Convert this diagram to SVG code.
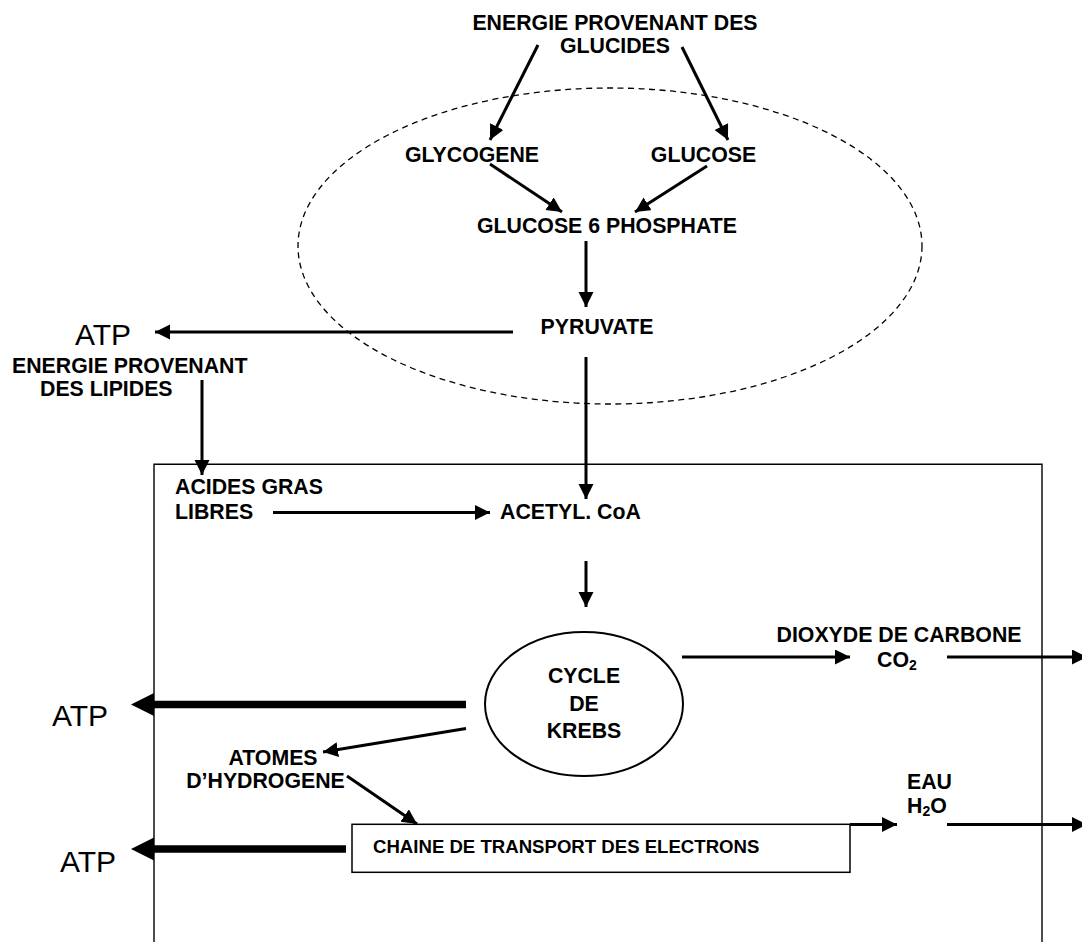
<svg xmlns="http://www.w3.org/2000/svg" width="1082" height="942" viewBox="0 0 1082 942">
<style>
text{font-family:"Liberation Sans",Arial,sans-serif;fill:#000}
.b{font-weight:bold;font-size:21.3px}
.s{font-weight:bold;font-size:18.6px}
.atp{font-size:30px}
.c{text-anchor:middle}
.ln{stroke:#000;stroke-width:3;fill:none}
.thick{stroke:#000;stroke-width:7.5;fill:none}
.frame{stroke:#000;stroke-width:1.4;fill:none}
</style>
<defs>
<marker id="ah" markerUnits="userSpaceOnUse" markerWidth="16" markerHeight="16" refX="15" refY="7.5" orient="auto">
<path d="M0,0 L15,7.5 L0,15 z" fill="#000"/>
</marker>
</defs>
<rect width="1082" height="942" fill="#fff"/>

<g id="cell-frame">
<path class="frame" d="M154,950 V464.3 H1042 V950"/>
</g>
<g id="cytoplasm-zone">
<ellipse cx="610" cy="246" rx="312" ry="158" fill="none" stroke="#000" stroke-width="1.3" stroke-dasharray="6 4.5"/>
</g>

<g id="n-glucides"><text class="b c" x="615" y="30">ENERGIE PROVENANT DES</text><text class="b c" x="615" y="53">GLUCIDES</text></g>
<g id="n-glycogene"><text class="b c" x="472" y="162">GLYCOGENE</text></g>
<g id="n-glucose"><text class="b c" x="703.5" y="162">GLUCOSE</text></g>
<g id="n-g6p"><text class="b c" x="607" y="233">GLUCOSE 6 PHOSPHATE</text></g>
<g id="n-pyruvate"><text class="b c" x="597" y="334">PYRUVATE</text></g>
<g id="n-atp1"><text class="atp" x="75" y="345">ATP</text></g>
<g id="n-lipides"><text class="b" x="12" y="373">ENERGIE PROVENANT</text><text class="b" x="40" y="396">DES LIPIDES</text></g>
<g id="n-acides"><text class="b" x="175" y="494">ACIDES GRAS</text><text class="b" x="175" y="519">LIBRES</text></g>
<g id="n-acetyl"><text class="b" x="500" y="519">ACETYL. CoA</text></g>
<g id="n-krebs">
<ellipse cx="584" cy="704" rx="99" ry="72" fill="none" stroke="#000" stroke-width="2"/>
<text class="b c" x="584" y="683">CYCLE</text><text class="b c" x="584" y="711">DE</text><text class="b c" x="584" y="738">KREBS</text>
</g>
<g id="n-co2"><text class="b c" x="899" y="642">DIOXYDE DE CARBONE</text><text class="b" x="877" y="667">CO<tspan font-size="14" dy="3">2</tspan></text></g>
<g id="n-atp2"><text class="atp" x="52" y="726">ATP</text></g>
<g id="n-atomes"><text class="b c" x="273" y="765">ATOMES</text><text class="b c" x="265.5" y="788">D’HYDROGENE</text></g>
<g id="n-eau"><text class="b" x="907" y="789">EAU</text><text class="b" x="907" y="813">H<tspan font-size="14" dy="3">2</tspan><tspan dy="-3">O</tspan></text></g>
<g id="n-chaine">
<rect x="352" y="824.3" width="498" height="48" fill="none" stroke="#000" stroke-width="1.5"/>
<text class="s" x="373" y="853">CHAINE DE TRANSPORT DES ELECTRONS</text>
</g>
<g id="n-atp3"><text class="atp" x="60" y="872">ATP</text></g>

<g id="connectors">
<line class="ln" x1="538" y1="45" x2="490" y2="140" marker-end="url(#ah)"/>
<line class="ln" x1="682" y1="47" x2="728" y2="140" marker-end="url(#ah)"/>
<line class="ln" x1="490" y1="164" x2="562" y2="212" marker-end="url(#ah)"/>
<line class="ln" x1="707" y1="166" x2="635" y2="212" marker-end="url(#ah)"/>
<line class="ln" x1="586" y1="241" x2="586" y2="307" marker-end="url(#ah)"/>
<line class="ln" x1="513" y1="332" x2="155" y2="332" marker-end="url(#ah)"/>
<line class="ln" x1="586" y1="357" x2="586" y2="499" marker-end="url(#ah)"/>
<line class="ln" x1="202" y1="380" x2="202" y2="475" marker-end="url(#ah)"/>
<line class="ln" x1="273" y1="512.5" x2="490" y2="512.5" marker-end="url(#ah)"/>
<line class="ln" x1="586" y1="561" x2="586" y2="607" marker-end="url(#ah)"/>
<line class="ln" x1="682" y1="657" x2="850" y2="657" marker-end="url(#ah)"/>
<line class="ln" x1="947" y1="657" x2="1087" y2="657" marker-end="url(#ah)"/>
<line class="ln" x1="466" y1="728.5" x2="323" y2="752" marker-end="url(#ah)"/>
<line class="ln" x1="347" y1="776" x2="417" y2="824" marker-end="url(#ah)"/>
<line class="ln" x1="850" y1="824.5" x2="897" y2="824.5" marker-end="url(#ah)"/>
<line class="ln" x1="947" y1="824.5" x2="1087" y2="824.5" marker-end="url(#ah)"/>
<line class="thick" x1="466" y1="704.5" x2="150" y2="704.5"/>
<path d="M131,704.5 L154,693 L154,716 z" fill="#000"/>
<line class="thick" x1="346" y1="849" x2="150" y2="849"/>
<path d="M131,849 L154,837.5 L154,860.5 z" fill="#000"/>
</g>
</svg>
